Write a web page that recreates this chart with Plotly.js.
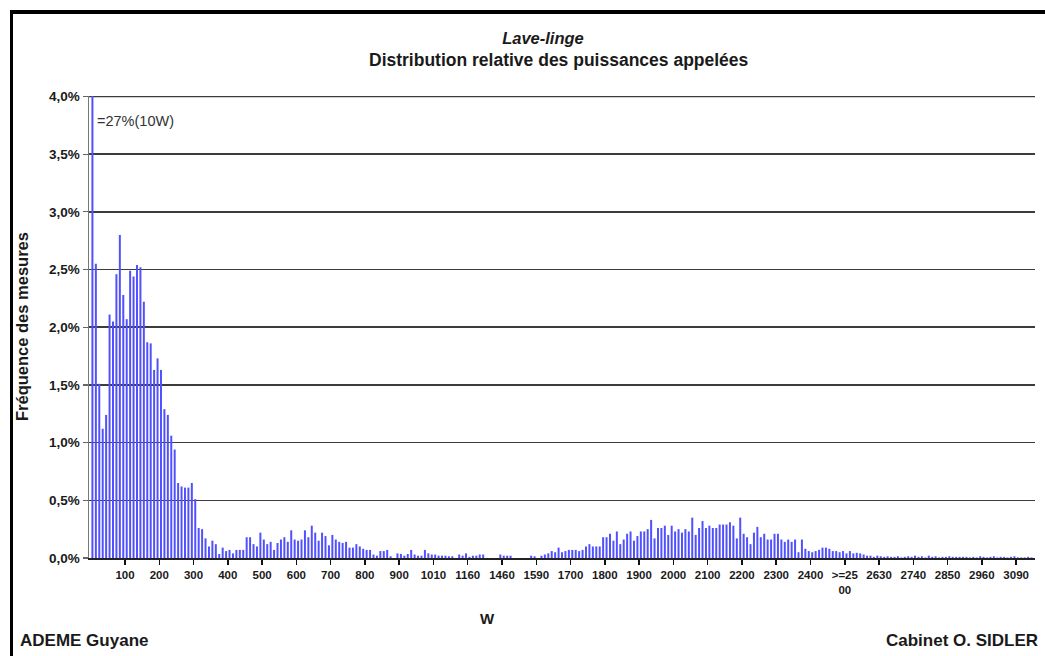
<!DOCTYPE html>
<html>
<head>
<meta charset="utf-8">
<script src="https://cdn.plot.ly/plotly-3.0.1.min.js"></script>
<style>
  html, body { margin: 0; padding: 0; background: #fff; }
  #wrap { position: relative; width: 1045px; height: 656px; overflow: hidden; }
  #chart { position: absolute; left: 0; top: 0; width: 1045px; height: 656px; }
  #frame { position: absolute; left: 10px; top: 10px; width: 1100px; height: 700px;
           border-left: 3px solid #000; border-top: 4px solid #000; pointer-events: none; }
</style>
</head>
<body>
<div id="wrap">
  <div id="chart"></div>
  <div id="frame"></div>
</div>
<script>
// Relative frequency (%) of measured power, one bar per 10 W bin (first bin = 10 W, 27 %)
const values = [
  27, 2.55, 1.51, 1.12, 1.24, 2.11, 2.05, 2.46, 2.80, 2.28,
  2.07, 2.49, 2.44, 2.54, 2.52, 2.22, 1.87, 1.86, 1.63, 1.73,
  1.63, 1.29, 1.24, 1.06, 0.94, 0.65, 0.62, 0.61, 0.61, 0.65,
  0.51, 0.26, 0.25, 0.17, 0.10, 0.15, 0.12, 0.035, 0.09, 0.06,
  0.07, 0.04, 0.07, 0.07, 0.07, 0.18, 0.18, 0.12, 0.10, 0.22,
  0.16, 0.12, 0.14, 0.07, 0.13, 0.16, 0.18, 0.14, 0.24, 0.16,
  0.15, 0.16, 0.24, 0.18, 0.28, 0.22, 0.15, 0.22, 0.19, 0.11,
  0.20, 0.16, 0.14, 0.13, 0.14, 0.09, 0.09, 0.12, 0.10, 0.08,
  0.07, 0.07, 0.03, 0.02, 0.06, 0.06, 0.07, 0.015, 0, 0.04,
  0.035, 0.02, 0.035, 0.07, 0.03, 0.02, 0.02, 0.07, 0.04, 0.03,
  0.03, 0.02, 0.02, 0.02, 0.015, 0.015, 0, 0.03, 0.02, 0.04,
  0.01, 0.02, 0.02, 0.03, 0.03, 0, 0, 0, 0, 0.03,
  0.02, 0.02, 0.02, 0, 0, 0, 0, 0, 0.02, 0.015,
  0, 0.02, 0.03, 0.04, 0.06, 0.05, 0.09, 0.05, 0.06, 0.07,
  0.07, 0.07, 0.06, 0.07, 0.10, 0.12, 0.10, 0.10, 0.10, 0.18,
  0.18, 0.21, 0.15, 0.23, 0.12, 0.16, 0.21, 0.23, 0.15, 0.19,
  0.23, 0.23, 0.25, 0.33, 0.17, 0.26, 0.26, 0.28, 0.20, 0.28,
  0.23, 0.25, 0.22, 0.25, 0.23, 0.35, 0.20, 0.26, 0.32, 0.26,
  0.28, 0.26, 0.26, 0.29, 0.29, 0.29, 0.31, 0.28, 0.17, 0.35,
  0.21, 0.18, 0.12, 0.22, 0.27, 0.18, 0.21, 0.16, 0.16, 0.21,
  0.21, 0.16, 0.14, 0.16, 0.14, 0.16, 0.05, 0.16, 0.08, 0.06,
  0.05, 0.06, 0.07, 0.09, 0.09, 0.08, 0.06, 0.06, 0.05, 0.06,
  0.04, 0.06, 0.04, 0.045, 0.04, 0.03, 0.02, 0.02, 0.01, 0.02,
  0.015, 0.01, 0.015, 0.01, 0.01, 0.015, 0.005, 0.01, 0.015, 0.01,
  0.02, 0.01, 0.015, 0.005, 0.02, 0.01, 0.015, 0.005, 0.01, 0.01,
  0.015, 0.01, 0.01, 0.01, 0.01, 0.01, 0.005, 0.01, 0.005, 0.015,
  0.01, 0.005, 0.01, 0.015, 0.005, 0.01, 0.01, 0.005, 0.01, 0.015,
  0.005, 0.005, 0.005, 0.01, 0.005
];
// Tick labels, one every 10 bins (placed between bin 10k-1 and bin 10k)
const tickLabels = ["100","200","300","400","500","600","700","800","900","1010",
  "1160","1460","1590","1700","1800","1900","2000","2100","2200","2300",
  "2400",">=25<br>00","2630","2740","2850","2960","3090"];
const yTicks = [0, 0.5, 1, 1.5, 2, 2.5, 3, 3.5, 4];
const yTickLabels = ["0,0%","0,5%","1,0%","1,5%","2,0%","2,5%","3,0%","3,5%","4,0%"];

const binIndex = values.map((v, i) => i);
const tickPos = tickLabels.map((t, k) => 10 * k + 9.5);

const FONT = "Liberation Sans, Arial, sans-serif";
const TXT = "#1a1a1a";

const trace = {
  type: "bar",
  x: binIndex,
  y: values,
  marker: { color: "#5050ff", line: { width: 0 } },
  hoverinfo: "skip"
};

const layout = {
  width: 1045, height: 656,
  margin: { l: 89, r: 10, t: 96, b: 98 },
  paper_bgcolor: "#fff", plot_bgcolor: "#fff",
  bargap: 0.42,
  showlegend: false,
  font: { family: FONT, color: TXT },
  title: {
    text: "<b><i>Lave-linge</i></b>",
    x: 543 / 1045, xanchor: "center", xref: "container",
    y: 1 - 38 / 656, yanchor: "middle", yref: "container",
    font: { family: FONT, size: 16.5, color: TXT }
  },
  xaxis: {
    range: [-1, 275],
    tickmode: "array", tickvals: tickPos, ticktext: tickLabels,
    ticks: "outside", ticklen: 5, tickwidth: 1.5, tickcolor: "#111",
    tickfont: { family: FONT, size: 11.5, color: TXT, weight: "bold" },
    showgrid: false, zeroline: false,
    showline: true, linecolor: "#222", linewidth: 2,
    fixedrange: true
  },
  yaxis: {
    range: [0, 4.004],
    tickmode: "array", tickvals: yTicks, ticktext: yTickLabels,
    ticks: "outside", ticklen: 5, tickwidth: 1.2, tickcolor: "#666",
    tickfont: { family: FONT, size: 13.5, color: TXT, weight: "bold" },
    showgrid: true, gridcolor: "#3c3c3c", gridwidth: 1.6,
    zeroline: false,
    showline: true, linecolor: "#777", linewidth: 1.5,
    fixedrange: true
  },
  shapes: [
    { type: "line", xref: "paper", yref: "y", x0: 0, x1: 1, y0: yTicks[yTicks.length - 1], y1: yTicks[yTicks.length - 1],
      line: { color: "#3c3c3c", width: 1.6 }, layer: "below" }
  ],
  annotations: [
    { text: "<b>Distribution relative des puissances appelées</b>",
      xref: "paper", yref: "paper", x: (558.5 - 89) / 946, y: (558 - 60) / 462,
      xanchor: "center", yanchor: "middle", showarrow: false,
      font: { family: FONT, size: 17.5, color: TXT } },
    { text: "<b>Fréquence des mesures</b>", textangle: -90,
      xref: "paper", yref: "paper", x: (22 - 89) / 946, y: 0.5,
      xanchor: "center", yanchor: "middle", showarrow: false,
      font: { family: FONT, size: 16.5, color: TXT } },
    { text: "<b>W</b>",
      xref: "paper", yref: "paper", x: (487 - 89) / 946, y: (558 - 618) / 462,
      xanchor: "center", yanchor: "middle", showarrow: false,
      font: { family: FONT, size: 15, color: TXT } },
    { text: "<b>ADEME Guyane</b>",
      xref: "paper", yref: "paper", x: (18 - 89) / 946, y: (558 - 640) / 462,
      xanchor: "left", yanchor: "middle", showarrow: false,
      font: { family: FONT, size: 17, color: TXT } },
    { text: "<b>Cabinet O. SIDLER</b>",
      xref: "paper", yref: "paper", x: (1040 - 89) / 946, y: (558 - 640) / 462,
      xanchor: "right", yanchor: "middle", showarrow: false,
      font: { family: FONT, size: 17, color: TXT } },
    { text: "=27%(10W)",
      xref: "paper", yref: "paper", x: (95 - 89) / 946, y: (558 - 121) / 462,
      xanchor: "left", yanchor: "middle", showarrow: false,
      font: { family: FONT, size: 14.5, color: "#333" } }
  ]
};

Plotly.newPlot("chart", [trace], layout, { displayModeBar: false, staticPlot: true });
</script>
</body>
</html>
